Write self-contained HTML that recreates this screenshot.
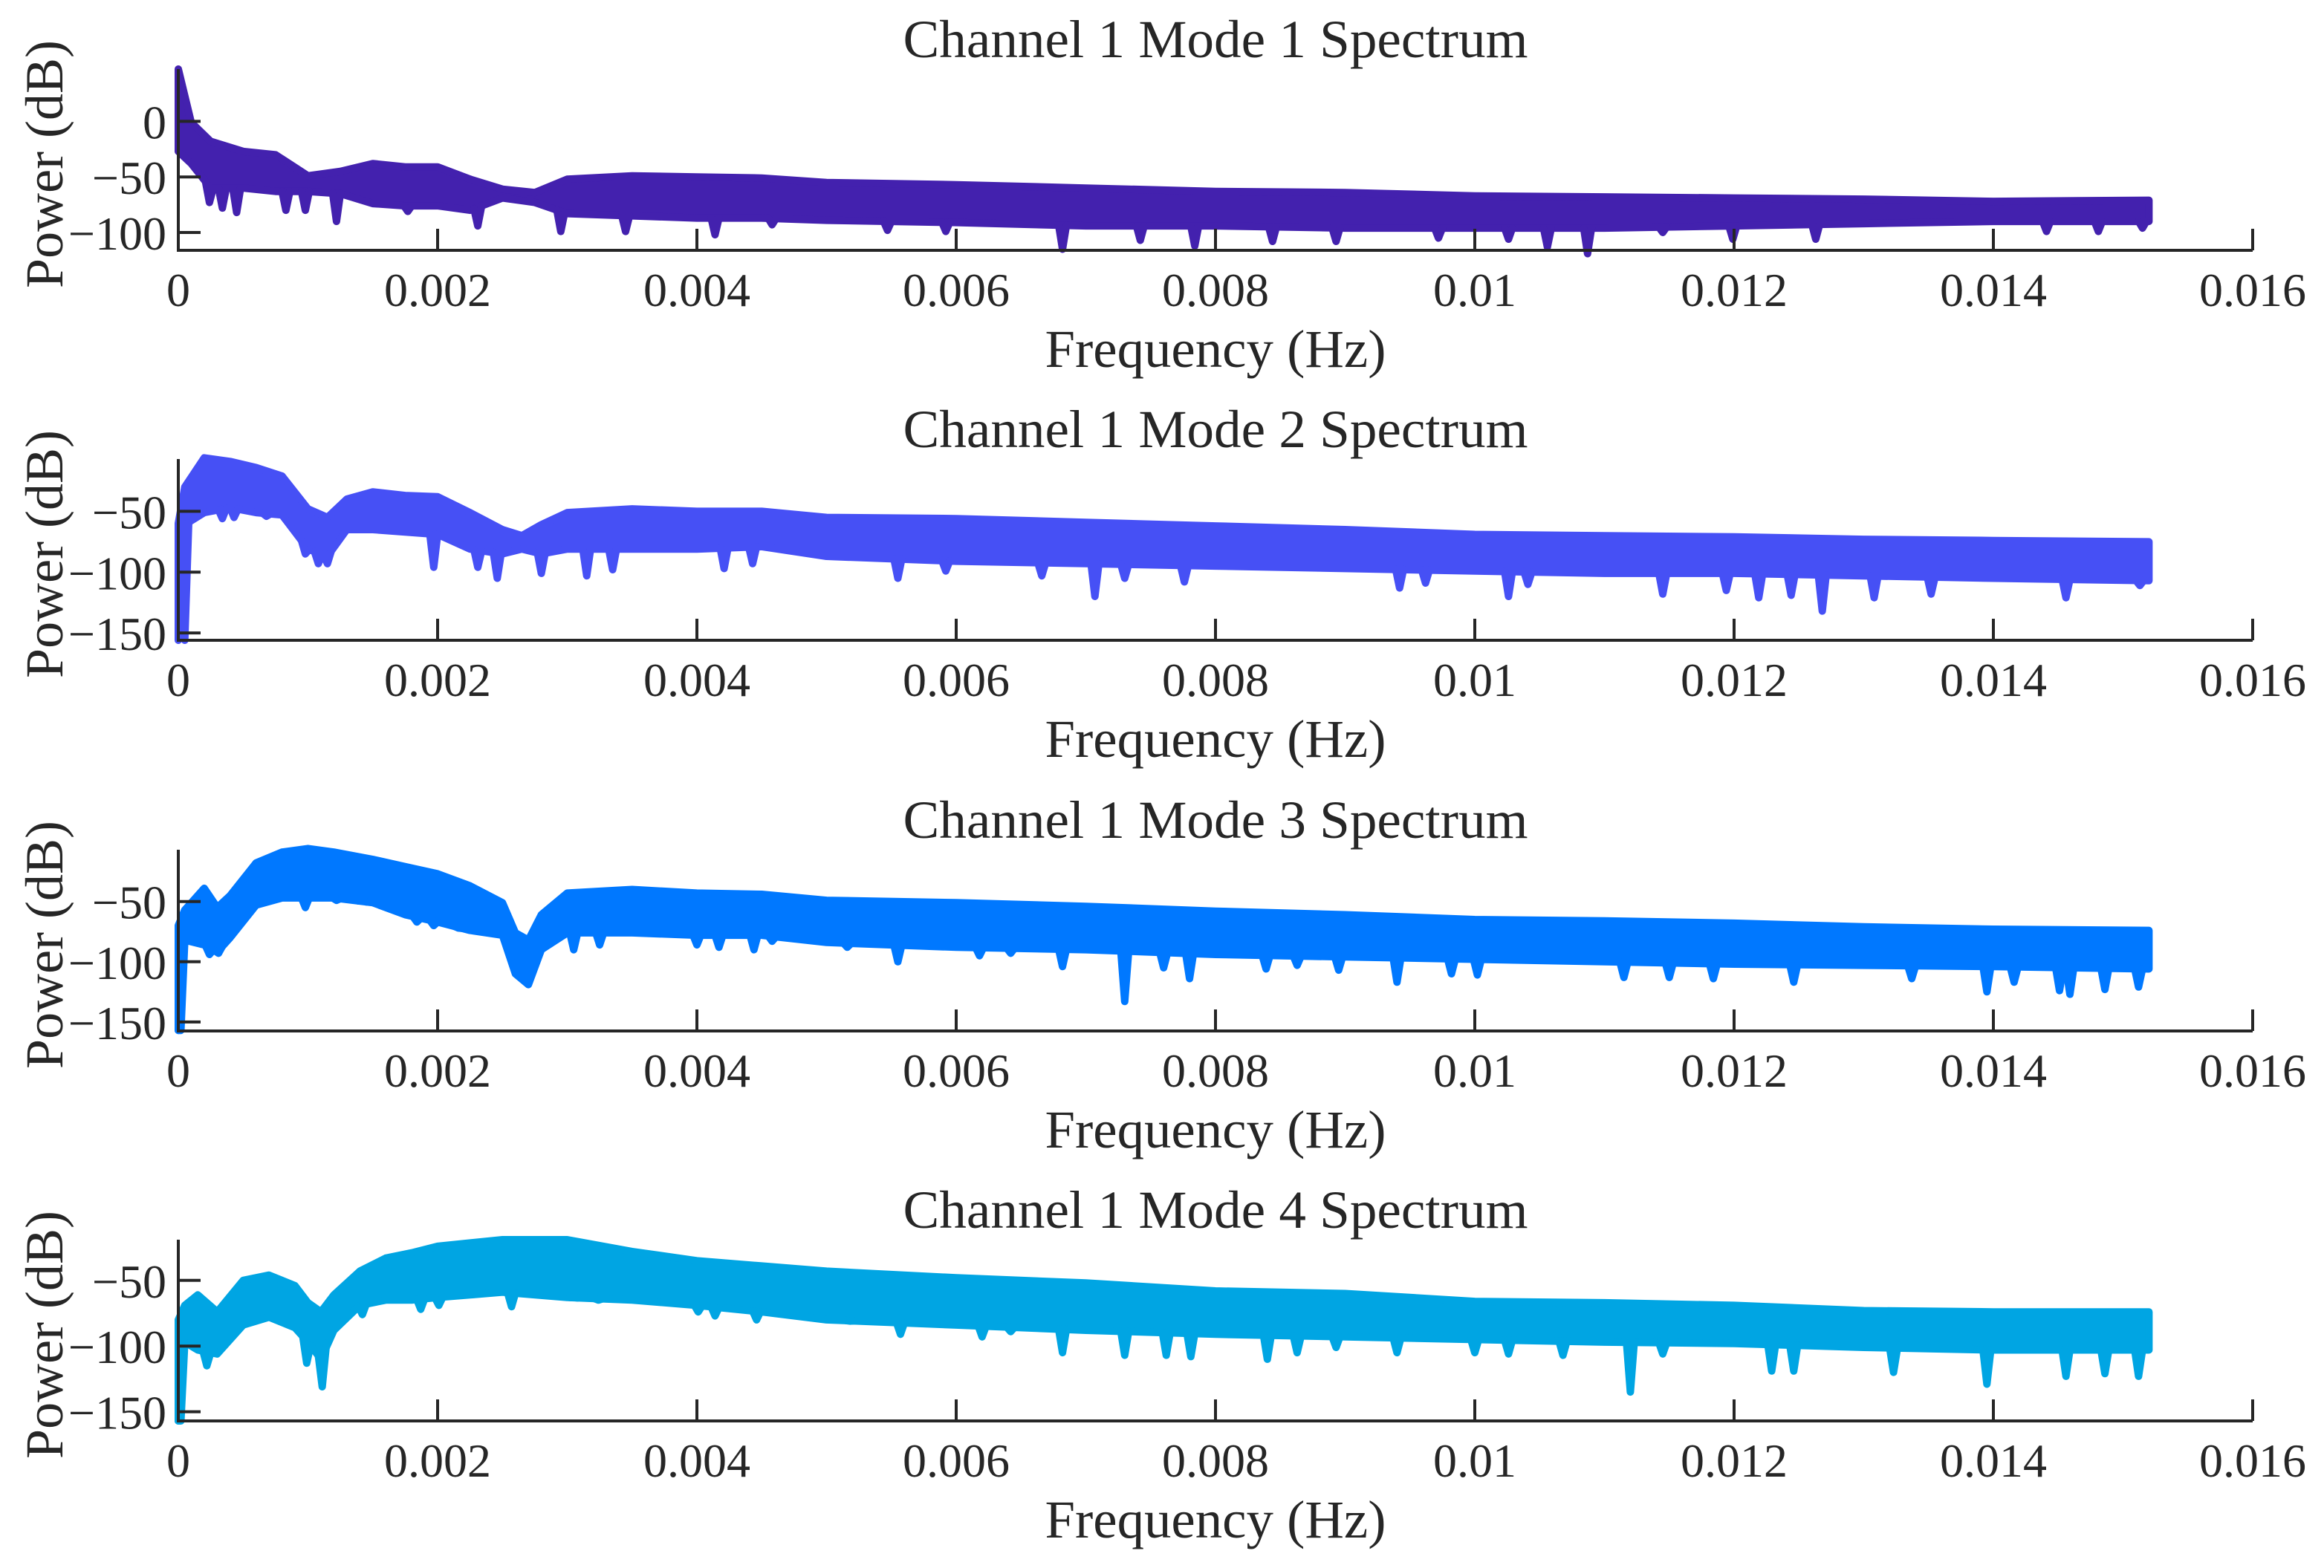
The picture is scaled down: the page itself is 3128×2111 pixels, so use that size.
<!DOCTYPE html>
<html><head><meta charset="utf-8"><style>
html,body{margin:0;padding:0;background:#fff;}
svg{display:block;}
text{font-family:"Liberation Serif","Times New Roman",serif;fill:#262626;}
</style></head><body>
<svg id="chart" width="3128" height="2111" viewBox="0 0 3128 2111" xmlns="http://www.w3.org/2000/svg"></svg>
<script>
// ---- data ----
const xTicks = [0, 0.002, 0.004, 0.006, 0.008, 0.01, 0.012, 0.014, 0.016];
const xTickLabels = ["0","0.002","0.004","0.006","0.008","0.01","0.012","0.014","0.016"];
const titles = ["Channel 1 Mode 1 Spectrum","Channel 1 Mode 2 Spectrum","Channel 1 Mode 3 Spectrum","Channel 1 Mode 4 Spectrum"];
const yRanges = [[-116,47],[-156,-7],[-157.5,-7],[-157,-19]];
const yTicks1 = [-100,-50,0];
const yTicks2 = [-150,-100,-50];
const yTicks3 = [-150,-100,-50];
const yTicks4 = [-150,-100,-50];

const freq1 = [0,0.0001,0.00025,0.0005,0.00075,0.001,0.00125,0.0015,0.00175,0.002,0.00225,0.0025,0.00275,0.003,0.0035,0.004,0.0045,0.005,0.006,0.007,0.008,0.009,0.01,0.011,0.012,0.013,0.014,0.0152];
const upper1 = [47,-1,-18,-27,-30,-49,-45,-38,-41,-41,-52,-61,-64,-52,-49,-50,-51,-55,-57,-60,-63,-64,-67,-68,-69,-70,-72,-71];
const lower1 = [-27,-38,-60,-60,-63,-63,-65,-74,-76,-76,-80,-69,-73,-83,-85,-87,-87,-89,-91,-94,-94,-96,-96,-96,-94,-92,-90,-90];
const spikeF1 = [0.00024,0.00034,0.00045,0.00083,0.00098,0.00122,0.00177,0.00231,0.00295,0.00345,0.00414,0.00458,0.00547,0.00592,0.00682,0.00742,0.00784,0.00844,0.00893,0.00972,0.01026,0.01056,0.01087,0.01145,0.01199,0.01263,0.01441,0.01481,0.01515];
const spikeV1 = [-73,-78,-82,-80,-80,-90,-81,-94,-99,-99,-102,-93,-98,-99,-115,-107,-112,-108,-108,-105,-106,-113,-119,-100,-106,-106,-99,-99,-96];

const freq2 = [0,0.00005,0.0002,0.0004,0.0006,0.0008,0.001,0.00115,0.0013,0.0015,0.00175,0.002,0.00225,0.0025,0.00265,0.0028,0.003,0.0035,0.004,0.0045,0.005,0.006,0.007,0.008,0.009,0.01,0.011,0.012,0.013,0.014,0.0152];
const upper2 = [-60,-30,-6,-9,-14,-21,-48,-55,-40,-34,-37,-38,-51,-65,-70,-61,-51,-48,-50,-50,-55,-56,-59,-62,-65,-69,-70,-71,-73,-74,-75];
const lower2 = [-156,-61,-51,-47,-51,-53,-81,-87,-65,-65,-67,-69,-81,-85,-81,-85,-81,-81,-81,-79,-87,-91,-93,-95,-97,-99,-101,-101,-103,-105,-107];
const spikeF2 = [0.00005,0.00016,0.00034,0.00043,0.00068,0.00098,0.00108,0.00115,0.00197,0.00231,0.00246,0.0028,0.00315,0.00335,0.00421,0.00443,0.00555,0.00592,0.00666,0.00707,0.0073,0.00776,0.00942,0.00962,0.01026,0.01041,0.01145,0.01194,0.01219,0.01244,0.01268,0.01308,0.01352,0.01456,0.01513];
const spikeV2 = [-156,-52,-56,-55,-54,-85,-93,-93,-96,-96,-105,-101,-103,-98,-97,-93,-105,-99,-103,-120,-105,-108,-113,-109,-120,-110,-118,-115,-121,-119,-132,-121,-118,-121,-111];

const freq3 = [0,0.00005,0.0002,0.0003,0.0004,0.0006,0.0008,0.001,0.0012,0.0015,0.00175,0.002,0.00225,0.0025,0.0026,0.0027,0.0028,0.003,0.0035,0.004,0.0045,0.005,0.006,0.007,0.008,0.009,0.01,0.011,0.012,0.013,0.014,0.0152];
const upper3 = [-70,-57,-39,-55,-45,-18,-9,-6,-9,-15,-21,-27,-37,-51,-76,-82,-61,-43,-40,-43,-44,-49,-51,-54,-58,-61,-65,-66,-68,-71,-73,-74];
const lower3 = [-157,-82,-86,-92,-80,-53,-47,-47,-47,-51,-61,-67,-74,-78,-110,-119,-90,-76,-76,-78,-78,-84,-88,-90,-94,-96,-98,-100,-102,-103,-104,-106];
const spikeF3 = [0.00002,0.00024,0.00031,0.00098,0.00122,0.00142,0.00184,0.00197,0.00216,0.00305,0.00325,0.004,0.00417,0.00444,0.00458,0.00516,0.00555,0.00618,0.00642,0.00682,0.0073,0.0076,0.0078,0.00839,0.00863,0.00895,0.0094,0.00982,0.01002,0.01115,0.0115,0.01184,0.01246,0.01337,0.01395,0.01416,0.01451,0.01459,0.01486,0.01512];
const spikeV3 = [-157,-94,-93,-55,-49,-49,-67,-70,-72,-90,-86,-86,-88,-90,-83,-88,-100,-95,-93,-104,-133,-105,-114,-106,-103,-107,-117,-110,-111,-113,-113,-114,-117,-114,-125,-117,-124,-127,-123,-121];

const freq4 = [0,0.00005,0.00015,0.0003,0.0005,0.0007,0.0009,0.001,0.0011,0.0012,0.0014,0.0016,0.0018,0.002,0.0025,0.003,0.0035,0.004,0.0045,0.005,0.006,0.007,0.008,0.009,0.01,0.011,0.012,0.013,0.014,0.0152];
const upper4 = [-80,-69,-61,-74,-50,-46,-54,-67,-74,-61,-43,-33,-29,-24,-19,-19,-28,-35,-39,-43,-48,-52,-58,-60,-66,-67,-69,-73,-74,-74];
const lower4 = [-157,-97,-103,-106,-84,-78,-86,-97,-110,-88,-69,-65,-65,-63,-59,-63,-65,-69,-74,-80,-84,-88,-91,-93,-95,-97,-98,-101,-103,-103];
const spikeF4 = [0.00002,0.00022,0.00099,0.00111,0.00142,0.00187,0.00201,0.00257,0.00305,0.00324,0.00401,0.00414,0.00446,0.00518,0.00557,0.0062,0.00642,0.00682,0.0073,0.00762,0.00781,0.0084,0.00863,0.00893,0.0094,0.01,0.01026,0.01068,0.0112,0.01145,0.01229,0.01246,0.01323,0.01395,0.01456,0.01486,0.01512];
const spikeV4 = [-157,-115,-113,-131,-76,-72,-69,-70,-63,-65,-74,-77,-80,-81,-91,-93,-89,-105,-107,-107,-108,-110,-105,-101,-105,-105,-106,-107,-135,-106,-119,-119,-120,-129,-123,-121,-123];

// ---- layout ----
const NS = "http://www.w3.org/2000/svg";
const svg = document.getElementById('chart');
const X0 = 240, X1 = 3032, XMAX = 0.016;
const panelTops = [93, 618, 1144, 1669];
const PH = 244;
const colors = ["#4321AE", "#4650F5", "#0078FF", "#00A5E3"];
const panels = [
  {freq:freq1, upper:upper1, lower:lower1, sf:spikeF1, sv:spikeV1, ticks:yTicks1},
  {freq:freq2, upper:upper2, lower:lower2, sf:spikeF2, sv:spikeV2, ticks:yTicks2},
  {freq:freq3, upper:upper3, lower:lower3, sf:spikeF3, sv:spikeV3, ticks:yTicks3},
  {freq:freq4, upper:upper4, lower:lower4, sf:spikeF4, sv:spikeV4, ticks:yTicks4}
];
function mk(tag, attrs, parent){
  const e = document.createElementNS(NS, tag);
  for (const k in attrs) e.setAttribute(k, attrs[k]);
  (parent||svg).appendChild(e);
  return e;
}
const xScale = f => X0 + (f / XMAX) * (X1 - X0);
function interp(fa, va, f){
  for (let i = 0; i < fa.length - 1; i++){
    if (f >= fa[i] && f <= fa[i+1]){
      const t = (f - fa[i]) / (fa[i+1] - fa[i]);
      return va[i] + t * (va[i+1] - va[i]);
    }
  }
  return va[va.length-1];
}

panels.forEach((p, k) => {
  const top = panelTops[k], bot = top + PH;
  const [ymin, ymax] = yRanges[k];
  const yScale = v => bot - (v - ymin) / (ymax - ymin) * PH;
  const g = mk('g', {});
  
  
  const fEnd = p.freq[p.freq.length - 1];

  const col = colors[k];
  let pts = [];
  for (let i = 0; i < p.freq.length; i++) pts.push(xScale(p.freq[i]).toFixed(1) + ',' + yScale(p.upper[i]).toFixed(1));
  for (let i = p.freq.length - 1; i >= 0; i--) pts.push(xScale(p.freq[i]).toFixed(1) + ',' + yScale(p.lower[i]).toFixed(1));
  const band = mk('polygon', {points: pts.join(' '), fill: col, stroke: col, 'stroke-width': 10, 'stroke-linejoin': 'round'}, g);
  
  

  p.sf.forEach((f, i) => {
    const d = 0.00003;
    const fl = Math.max(0, f - d), fr = Math.min(fEnd, f + d);
    const path = `M${xScale(fl).toFixed(1)},${yScale(interp(p.freq, p.lower, fl)).toFixed(1)} L${xScale(f).toFixed(1)},${yScale(p.sv[i]).toFixed(1)} L${xScale(fr).toFixed(1)},${yScale(interp(p.freq, p.lower, fr)).toFixed(1)}`;
    const s = mk('path', {d: path, fill: 'none', stroke: col, 'stroke-width': 10, 'stroke-linecap': 'round', 'stroke-linejoin': 'round'}, g);
    
    
  });

  const ax = mk('path', {d: `M${X0},${top} L${X0},${bot} L${X1},${bot}`, fill: 'none', stroke: '#262626', 'stroke-width': 4}, g);
  
  

  xTicks.forEach((t, i) => {
    const x = xScale(t);
    if (i > 0){
      const tk = mk('line', {x1: x, y1: bot, x2: x, y2: bot - 29, stroke: '#262626', 'stroke-width': 4}, g);
      
      
    }
    const tl = mk('text', {x: x, y: bot + 75, 'font-size': 64, 'text-anchor': 'middle'}, g);
    
    
    tl.textContent = xTickLabels[i];
  });
  p.ticks.forEach(t => {
    const y = yScale(t);
    const tk = mk('line', {x1: X0, y1: y, x2: X0 + 30, y2: y, stroke: '#262626', 'stroke-width': 4}, g);
    
    
    const tl = mk('text', {x: 224, y: y + 23, 'font-size': 64, 'text-anchor': 'end'}, g);
    
    
    tl.textContent = (t < 0 ? '\u2212' + (-t) : String(t));
  });

  const title = mk('text', {x: (X0 + X1) / 2, y: top - 16, 'font-size': 72, 'text-anchor': 'middle', textLength: 841, lengthAdjust: 'spacingAndGlyphs'}, g);
  
  
  title.textContent = titles[k];

  const xl = mk('text', {x: (X0 + X1) / 2, y: bot + 157, 'font-size': 72, 'text-anchor': 'middle', textLength: 459, lengthAdjust: 'spacingAndGlyphs'}, g);
  
  
  xl.textContent = 'Frequency (Hz)';

  const cy = (top + bot) / 2 + 6;
  const yl = mk('text', {x: 0, y: 0, 'font-size': 72, 'text-anchor': 'middle', transform: `translate(84,${cy}) rotate(-90)`}, g);
  
  
  yl.textContent = 'Power (dB)';
});
</script>
</body></html>
